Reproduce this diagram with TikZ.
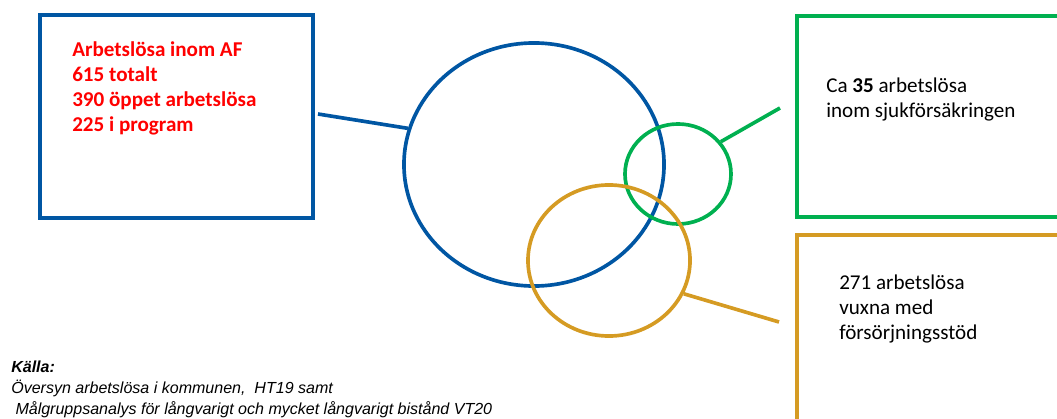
\documentclass[tikz,border=0pt]{standalone}
\usepackage{fontspec}
\setmainfont{Carlito}
\newfontfamily\arialfont{Liberation Sans}
\usetikzlibrary{shapes.geometric}
\definecolor{afblue}{RGB}{0,86,163}
\definecolor{fkgreen}{RGB}{0,176,80}
\definecolor{fsorange}{RGB}{213,155,35}
\definecolor{afred}{RGB}{255,0,0}

\begin{document}
\begin{tikzpicture}[x=0.025cm,y=-0.025cm,
        box/.style={rectangle,draw,line width=3pt,inner sep=0pt,anchor=north west},
        ring/.style={ellipse,draw,line width=2.6pt,inner sep=0pt},
        link/.style={line width=2.6pt},
        txt/.style={anchor=north west,inner sep=0pt,align=left,font=\fontsize{15}{17.8}\selectfont}]

        \useasboundingbox (0,0) rectangle (1057,419);
        \clip (0,0) rectangle (1057,419);

        \node[box,afblue,minimum width=6.825cm,minimum height=5.075cm] (afbox) at (38,13) {};
        \node[box,fkgreen,minimum width=7.5cm,minimum height=5.025cm] (fkbox) at (795,14) {};
        \node[box,fsorange,minimum width=7.5cm,minimum height=6.5cm] (fsbox) at (795,233) {};

        \node[ring,afblue,minimum width=6.5cm,minimum height=6.075cm] (afring) at (534,164.5) {};
        \node[ring,fkgreen,minimum width=2.65cm,minimum height=2.5cm] (fkring) at (678,174) {};
        \node[ring,fsorange,minimum width=4.05cm,minimum height=3.775cm] (fsring) at (609,260.5) {};

        \coordinate (afend) at (318,114); \draw[link,afblue] (afend) -- (afring.164);
        \coordinate (fkend) at (780,108); \draw[link,fkgreen] (fkring.37) -- (fkend);
        \coordinate (fsend) at (779,322); \draw[link,fsorange] (fsring.-24) -- (fsend);

        \node[txt,text=afred,font=\fontsize{15}{17.8}\selectfont\bfseries] (aftext) at (72,41)
        {Arbetslösa inom AF\\615 totalt\\390 öppet arbetslösa\\225 i program};
        \node[txt] (fktext) at (826,78) {Ca \textbf{35} arbetslösa\\inom sjukförsäkringen};
        \node[txt] (fstext) at (839,275) {271 arbetslösa\\vuxna med\\försörjningsstöd};
        \node[txt,font=\arialfont\itshape\fontsize{11.4}{14.8}\selectfont] (kalla) at (11,361)
        {\textbf{Källa:}\\Översyn arbetslösa i kommunen,\ \ HT19 samt\\\hspace{3pt}Målgruppsanalys för långvarigt och mycket långvarigt bistånd VT20};

      \end{tikzpicture}
\end{document}
